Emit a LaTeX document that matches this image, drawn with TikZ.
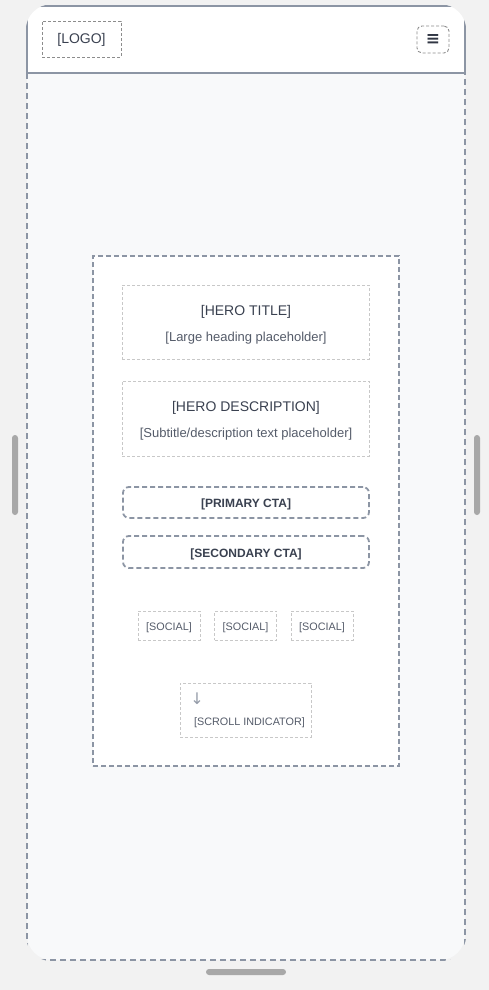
\documentclass[tikz,border=0pt]{standalone}
\usepackage{fontspec}
\setmainfont{Liberation Sans}
\newfontfamily\symfont{DejaVu Sans}
\definecolor{pagebg}{HTML}{F2F2F2}
\definecolor{screenbg}{HTML}{F8F9FA}
\definecolor{framegray}{HTML}{8C95A4}
\definecolor{lightline}{HTML}{C8C8C8}
\definecolor{knobgray}{HTML}{A8A8A8}
\definecolor{inkdark}{HTML}{3A4150}
\definecolor{inkmid}{HTML}{555C6A}
\definecolor{arrowgray}{HTML}{949BA8}

\begin{document}
\begin{tikzpicture}[x=1pt, y=-1pt,
    every node/.style = {inner sep=0pt, outer sep=0pt, text height=1em, text depth=0pt},
    wirebox/.style = {draw=lightline, line width=0.8pt, dash pattern=on 3pt off 2pt},
    logobox/.style = {draw=gray!90, line width=0.9pt, dash pattern=on 3pt off 2pt},
    herobox/.style = {draw=framegray, fill=white, line width=1.7pt, dash pattern=on 5pt off 3pt},
    ctabox/.style = {draw=framegray, line width=1.8pt, dash pattern=on 5pt off 3pt,
        rounded corners=6pt, minimum width=246, minimum height=31,
        font=\fontsize{12}{14}\selectfont\bfseries, text=inkdark},
    headtext/.style = {font=\fontsize{14}{16}\selectfont, text=inkdark},
    subtext/.style = {font=\fontsize{13}{15}\selectfont, text=inkmid},
    smalltext/.style = {font=\fontsize{10.8}{12}\selectfont, text=inkmid},
    knob/.style = {fill=knobgray, rounded corners=3pt}]
  \useasboundingbox[fill=pagebg] (0,0) rectangle (489,990);

  % phone body
  \path[fill=screenbg, rounded corners=25pt] (27,5) rectangle (465,960);
  \begin{scope}
    \clip[rounded corners=26pt] (25.8,4.2) rectangle (466.2,961.2);
    \fill[white] (27,5) rectangle (465,73);
    \draw[framegray, line width=2pt] (27,6) rectangle (465,73);
    \draw[framegray, line width=2pt, dash pattern=on 6pt off 4pt]
      (27,73) -- (27,960) -- (465,960) -- (465,73);
  \end{scope}

  % side keys and home bar
  \path[knob] (12,435) rectangle (18,515);
  \path[knob] (474,435) rectangle (480,515);
  \path[knob] (206,969) rectangle (286,975);

  % header
  \node[logobox, minimum width=79, minimum height=36, font=\fontsize{14}{16}\selectfont, text=inkdark]
    (logo) at (81.5,39) {[LOGO]};
  \node[logobox, rounded corners=5pt, minimum width=32, minimum height=27,
    font=\symfont\bfseries\fontsize{17}{18}\selectfont, text=inkdark!85!black]
    (menu) at (433,39.5) {≡};

  % hero section
  \node[herobox, minimum width=306, minimum height=510] (hero) at (246,511) {};

  \node[wirebox, minimum width=247, minimum height=74] (title) at (245.5,322) {};
  \node[headtext] (titlelbl) at (246,310.5) {[HERO TITLE]};
  \node[subtext] (titlesub) at (246,336.5) {[Large heading placeholder]};

  \node[wirebox, minimum width=247, minimum height=75] (desc) at (245.5,418.5) {};
  \node[headtext] (desclbl) at (246,406.5) {[HERO DESCRIPTION]};
  \node[subtext] (descsub) at (246,432.5) {[Subtitle/description text placeholder]};

  \node[ctabox] (primary) at (246,502.5) {[PRIMARY CTA]};
  \node[ctabox, minimum height=32] (secondary) at (246,552) {[SECONDARY CTA]};

  \foreach \x/\n in {169/1, 245.5/2, 322/3}
    \node[wirebox, smalltext, minimum width=62, minimum height=29] (social\n) at (\x,625.5) {[SOCIAL]};

  \node[wirebox, minimum width=131, minimum height=54] (scroll) at (245.5,710) {};
  \node[font=\symfont\fontsize{16}{17}\selectfont, text=arrowgray] (scrollarrow) at (197,699) {↓};
  \node[smalltext] (scrolllbl) at (249.5,720) {[SCROLL INDICATOR]};
\end{tikzpicture}
\end{document}
